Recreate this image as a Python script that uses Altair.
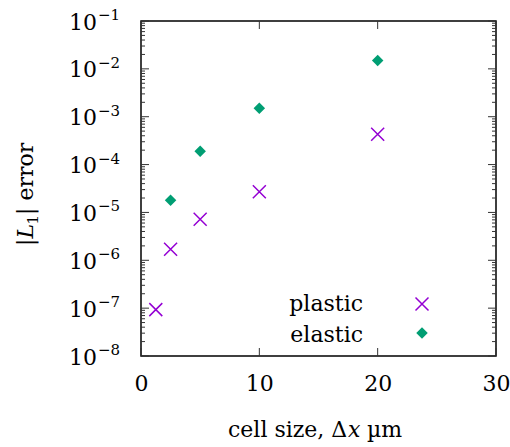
import altair as alt
import pandas as pd

# ---- data ----
plastic_x = [1.25, 2.5, 5, 10, 20]
plastic_err = [9.3e-8, 1.7e-6, 7.2e-6, 2.7e-5, 4.3e-4]
elastic_x = [2.5, 5, 10, 20]
elastic_err = [1.8e-5, 1.9e-4, 1.5e-3, 1.5e-2]
series_names = ["plastic", "elastic"]
series_colors = ["#9400d3", "#009e73"]

x_ticks = [0, 10, 20, 30]
y_decades = [1e-1, 1e-2, 1e-3, 1e-4, 1e-5, 1e-6, 1e-7, 1e-8]
y_exp_labels = ["\u22121", "\u22122", "\u22123", "\u22124", "\u22125", "\u22126", "\u22127", "\u22128"]
minor_mult = [2, 3, 4, 5, 6, 7, 8, 9]

# ---- layout ----
W, H = 355, 335
FONT = "DejaVu Serif"
FS = 22
TICK_COLOR = "#333333"

xs = alt.Scale(domain=[0, 30], nice=False, zero=False)
ys = alt.Scale(type="log", domain=[1e-8, 1e-1], nice=False)

df_p = pd.DataFrame({"x": plastic_x, "err": plastic_err})
df_e = pd.DataFrame({"x": elastic_x, "err": elastic_err})
df_xt = pd.DataFrame({"v": x_ticks})
df_yt = pd.DataFrame({"v": y_decades, "base": ["10"] * len(y_decades), "exp": y_exp_labels})
df_minor = pd.DataFrame({"v": [m * d for d in y_decades[1:] for m in minor_mult]})

CROSS = "M-1,-1L1,1M-1,1L1,-1"

x_axis = alt.Axis(values=x_ticks, labelFont=FONT, labelFontSize=FS, labelColor="black",
                  ticks=False, tickSize=0, domain=False, grid=False, labelPadding=17,
                  title=None, labelFlush=False)

plastic = alt.Chart(df_p).mark_point(shape=CROSS, filled=False, size=169, strokeWidth=1.5,
                                     color=series_colors[0], opacity=1).encode(
    x=alt.X("x:Q", scale=xs, axis=x_axis),
    y=alt.Y("err:Q", scale=ys, axis=None),
)
elastic = alt.Chart(df_e).mark_point(shape="diamond", filled=True, size=132,
                                     color=series_colors[1], opacity=1).encode(
    x=alt.X("x:Q", scale=xs, axis=x_axis),
    y=alt.Y("err:Q", scale=ys, axis=None),
)

# ticks (inside, mirrored)
def yrule(df, x0, x1):
    return alt.Chart(df).mark_rule(color=TICK_COLOR, strokeWidth=1).encode(
        y=alt.Y("v:Q", scale=ys, axis=None), x=alt.value(x0), x2=alt.value(x1))

def xrule(y0, y1):
    return alt.Chart(df_xt).mark_rule(color=TICK_COLOR, strokeWidth=1).encode(
        x=alt.X("v:Q", scale=xs, axis=x_axis), y=alt.value(y0), y2=alt.value(y1))

ticks = [
    yrule(df_yt, 0, 8), yrule(df_yt, W - 8, W),
    yrule(df_minor, 0, 4), yrule(df_minor, W - 4, W),
    xrule(H - 8, H), xrule(0, 8),
]

# y tick labels 10^n
ybase = alt.Chart(df_yt).mark_text(align="right", baseline="middle", font=FONT, fontSize=FS,
                                   color="black", dy=1.5).encode(
    y=alt.Y("v:Q", scale=ys, axis=None), x=alt.value(-44), text="base:N")
yexp = alt.Chart(df_yt).mark_text(align="left", baseline="middle", font=FONT, fontSize=15,
                                  color="black", dy=-6).encode(
    y=alt.Y("v:Q", scale=ys, axis=None), x=alt.value(-43), text="exp:N")

# legend (labels left, symbols right)
one = pd.DataFrame({"name": [series_names[0]]})
two = pd.DataFrame({"name": [series_names[1]]})
leg = [
    alt.Chart(one).mark_text(align="right", baseline="alphabetic", font=FONT, fontSize=FS,
                             color="black").encode(x=alt.value(222), y=alt.value(290), text="name:N"),
    alt.Chart(two).mark_text(align="right", baseline="alphabetic", font=FONT, fontSize=FS,
                             color="black").encode(x=alt.value(222), y=alt.value(321), text="name:N"),
    alt.Chart(one).mark_point(shape=CROSS, filled=False, size=169, strokeWidth=1.5,
                              color=series_colors[0], opacity=1).encode(x=alt.value(281), y=alt.value(283)),
    alt.Chart(two).mark_point(shape="diamond", filled=True, size=132,
                              color=series_colors[1], opacity=1).encode(x=alt.value(281), y=alt.value(312)),
]

# axis titles built from pieces (italic symbols)
def txt(s, x, y, size=FS, style="normal", angle=0, align="left"):
    d = pd.DataFrame({"t": [s]})
    kw = dict(align=align, baseline="alphabetic", font=FONT, fontSize=size, fontStyle=style,
              color="black")
    if angle:
        kw["angle"] = angle
    return alt.Chart(d).mark_text(**kw).encode(x=alt.value(x), y=alt.value(y), text="t:N")

TY = 416
titles = [
    txt("cell size, \u0394", 87, TY),
    txt("x", 207, TY, style="italic"),
    txt("\u00b5m", 226, TY),
    txt("|", -107.7, 225, angle=270),
    txt("L", -107.7, 217.5, style="italic", angle=270),
    txt("1", -103.5, 203.5, size=15, angle=270),
    txt("| error", -107.7, 194, angle=270),
]

chart = alt.layer(plastic, elastic, *ticks, ybase, yexp, *leg, *titles).properties(
    width=W, height=H,
    background="white",
    autosize=alt.AutoSizeParams(type="none"),
    padding={"left": 141, "top": 21, "right": 14, "bottom": 91},
).configure_view(stroke="black", strokeWidth=1.5)

chart.save("out.html", embed_options={"renderer": "svg", "actions": False})
